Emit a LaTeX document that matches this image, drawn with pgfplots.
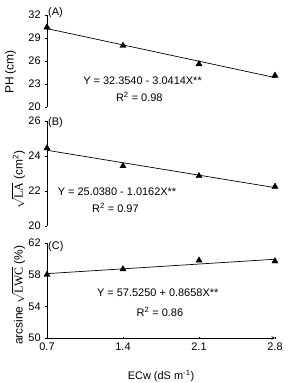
\documentclass[border=0pt]{standalone}
\usepackage{pgfplots}
\pgfplotsset{compat=1.18}
\usepackage{fontspec}
\setmainfont{Liberation Sans}
\newfontfamily\seriffont{Liberation Serif}
\begin{document}
\fontsize{11}{13}\selectfont
\begin{tikzpicture}
\useasboundingbox (0,0) rectangle (289bp,383bp);
\pgfplotsset{
 every axis/.append style={
  scale only axis, width=228bp, xmin=0.7, xmax=2.8, clip=false,
  axis y line=left, axis line style={-, line width=0.6pt, black},
  tick align=outside, major tick length=2.5pt,
  tick style={line width=0.6pt, black},
  /pgf/number format/assume math mode=true,
  tick label style={font=\fontsize{11}{13}\selectfont},
  ylabel style={font=\fontsize{12}{14}\selectfont, inner sep=0pt},
  xlabel style={font=\fontsize{11}{13}\selectfont},
  anchor=south west,
 },
 mk/.style={only marks, mark=triangle*, mark size=3.6pt, black},
 fit/.style={black, line width=0.7pt, no marks},
}
% Panel A
\begin{axis}[at={(47bp,276bp)}, height=92bp, ymin=20, ymax=32, ytick={20,23,26,29,32},
  axis x line=none, ylabel={PH (cm)},
  ylabel style={at={(axis description cs:-0.16,0.38)}, anchor=center}]
\addplot[fit] coordinates {(0.7,30.225) (2.8,23.838)};
\addplot[mk] coordinates {(0.7,30.4) (1.4,28.0) (2.1,25.6) (2.8,24.1)};
\node[anchor=west, inner sep=1pt, yshift=2bp] at (axis description cs:0,1) {(A)};
\node at (axis cs:1.58,23.4) {Y = 32.3540 - 3.0414X**};
\node at (axis cs:1.55,21.3) {R\textsuperscript{2} = 0.98};
\end{axis}
% Panel B
\begin{axis}[at={(47bp,157bp)}, height=105bp, ymin=20, ymax=26, ytick={20,22,24,26},
  axis x line=none, ylabel={$\sqrt{\hbox{\seriffont LA}}$ (cm\textsuperscript{2})},
  ylabel style={at={(axis description cs:-0.125,0.44)}, anchor=center}]
\addplot[fit] coordinates {(0.7,24.327) (2.8,22.193)};
\addplot[mk] coordinates {(0.7,24.45) (1.4,23.43) (2.1,22.86) (2.8,22.25)};
\node[anchor=west, inner sep=1pt, yshift=-2bp] at (axis description cs:0,1) {(B)};
\node at (axis cs:1.345,21.94) {Y = 25.0380 - 1.0162X**};
\node at (axis cs:1.33,21.03) {R\textsuperscript{2} = 0.97};
\end{axis}
% Panel C
\begin{axis}[at={(47bp,45bp)}, height=95bp, ymin=50, ymax=62, ytick={50,54,58,62},
  axis x line=bottom, xtick={0.7,1.4,2.1,2.8}, xticklabels={0.7,1.4,2.1,2.8},
  xlabel={ECw (dS m\textsuperscript{-1})},
  xlabel style={at={(axis description cs:0.5,-0.4)}, anchor=center},
  ylabel={arcsine $\sqrt{\hbox{\seriffont LWC}}$ (\%)},
  ylabel style={at={(axis description cs:-0.125,0.45)}, anchor=center}]
\addplot[fit] coordinates {(0.7,58.131) (2.8,59.949)};
\addplot[mk] coordinates {(0.7,58.0) (1.4,58.7) (2.1,59.8) (2.8,59.7)};
\node[anchor=west, inner sep=1pt, yshift=-4bp] at (axis description cs:0,1) {(C)};
\node at (axis cs:1.72,55.7) {Y = 57.5250 + 0.8658X**};
\node at (axis cs:1.74,53.3) {R\textsuperscript{2} = 0.86};
\end{axis}
\end{tikzpicture}
\end{document}
